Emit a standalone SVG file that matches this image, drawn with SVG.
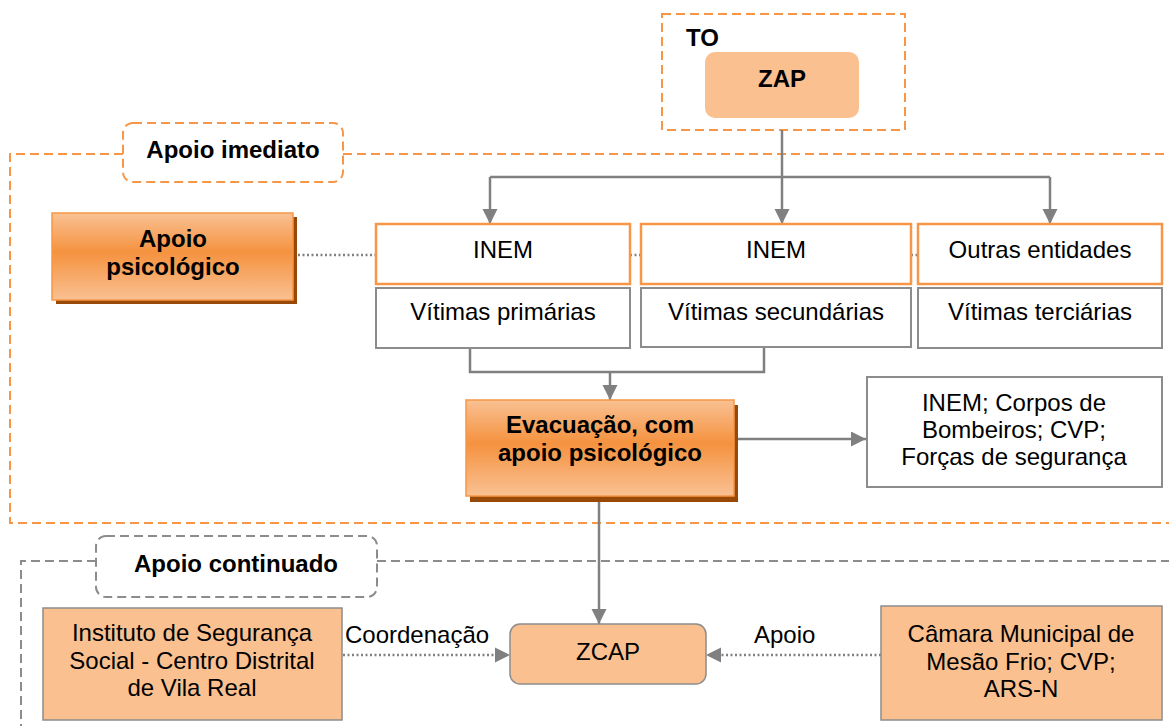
<svg xmlns="http://www.w3.org/2000/svg" width="1169" height="726" viewBox="0 0 1169 726">
<defs>
<linearGradient id="og" x1="0" y1="0" x2="0" y2="1">
<stop offset="0" stop-color="#F9C193"/>
<stop offset="0.45" stop-color="#F5923F"/>
<stop offset="1" stop-color="#F9C193"/>
</linearGradient>
<marker id="ar" markerUnits="userSpaceOnUse" markerWidth="16" markerHeight="16" refX="15" refY="7.5" orient="auto">
<path d="M0,0 L15,7.5 L0,15 z" fill="#808080"/>
</marker>
<style>
text{font-family:"Liberation Sans",Arial,sans-serif;font-size:24px;fill:#000;}
.b{font-weight:bold;}
.m{text-anchor:middle;}
.od{fill:none;stroke:#F79646;stroke-width:2;stroke-dasharray:9 5;}
.gd{fill:none;stroke:#8C8C8C;stroke-width:2;stroke-dasharray:9 5;}
.ob{fill:#fff;stroke:#F79646;stroke-width:2.5;}
.gb{fill:#fff;stroke:#8C8C8C;stroke-width:2;}
.lf{fill:#FAC090;stroke:#8C8C8C;stroke-width:1.5;}
.gr{fill:url(#og);stroke:#F79646;stroke-width:1.5;}
.sh{fill:#984807;}
.c{fill:none;stroke:#808080;stroke-width:2.5;}
.dt{fill:none;stroke:#808080;stroke-width:2.5;stroke-dasharray:2 2.5;}
</style>
</defs>

<g id="region-apoio-imediato">
<path class="od" d="M123,154 L10,154 L10,523 L1169,523"/>
<path class="od" d="M343,154 L1169,154"/>
<rect class="od" x="123" y="123" width="220" height="59" rx="10"/>
<text class="b m" x="233" y="158">Apoio imediato</text>
</g>

<g id="region-apoio-continuado">
<path class="gd" d="M96,561 L21,561 L21,726"/>
<path class="gd" d="M377,561 L1169,561"/>
<rect class="gd" x="96" y="536" width="281" height="61" rx="10"/>
<text class="b m" x="236" y="572">Apoio continuado</text>
</g>

<g id="to">
<rect class="od" x="662" y="14" width="243" height="116"/>
<text class="b" x="686" y="46">TO</text>
</g>

<g id="zap">
<rect x="705" y="52" width="154" height="66" rx="10" fill="#FAC090"/>
<text class="b m" x="782" y="87">ZAP</text>
</g>

<g id="connectors">
<path class="c" d="M782,130 L782,177"/>
<path class="c" d="M490,177 L1050,177"/>
<path class="c" d="M490,177 L490,224" marker-end="url(#ar)"/>
<path class="c" d="M782,177 L782,224" marker-end="url(#ar)"/>
<path class="c" d="M1050,177 L1050,224" marker-end="url(#ar)"/>
<path class="dt" d="M298,255 L376,255"/>
<path class="dt" d="M630,255 L641,255"/>
<path class="dt" d="M911,255 L918,255"/>
<path class="c" d="M470,348 L470,372 L764,372 L764,348"/>
<path class="c" d="M610,372 L610,400" marker-end="url(#ar)"/>
<path class="c" d="M734,439 L866,439" marker-end="url(#ar)"/>
<path class="c" d="M599,502 L599,624" marker-end="url(#ar)"/>
<path class="dt" d="M343,655 L497,655"/>
<path d="M495,647.5 L510,655 L495,662.5 z" fill="#808080"/>
<path class="dt" d="M881,655 L720,655"/>
<path d="M721,647.5 L706,655 L721,662.5 z" fill="#808080"/>
<text x="345" y="643">Coordenação</text>
<text x="754" y="643">Apoio</text>
</g>

<g id="apoio-psicologico">
<rect class="sh" x="56" y="217" width="241" height="87"/>
<rect class="gr" x="52" y="213" width="241" height="87"/>
<text class="b m" x="173" y="247">Apoio</text>
<text class="b m" x="173" y="275">psicológico</text>
</g>

<g id="inem-1">
<rect class="ob" x="376" y="224" width="254" height="60"/>
<text class="m" x="503" y="258">INEM</text>
</g>
<g id="vitimas-primarias">
<rect class="gb" x="376" y="288" width="254" height="60"/>
<text class="m" x="503" y="320">Vítimas primárias</text>
</g>

<g id="inem-2">
<rect class="ob" x="641" y="224" width="270" height="60"/>
<text class="m" x="776" y="258">INEM</text>
</g>
<g id="vitimas-secundarias">
<rect class="gb" x="641" y="288" width="270" height="59"/>
<text class="m" x="776" y="320">Vítimas secundárias</text>
</g>

<g id="outras-entidades">
<rect class="ob" x="918" y="224" width="244" height="60"/>
<text class="m" x="1040" y="258">Outras entidades</text>
</g>
<g id="vitimas-terciarias">
<rect class="gb" x="918" y="288" width="244" height="60"/>
<text class="m" x="1040" y="320">Vítimas terciárias</text>
</g>

<g id="evacuacao">
<rect class="sh" x="470" y="405" width="268" height="97"/>
<rect class="gr" x="466" y="400" width="268" height="96"/>
<text class="b m" x="600" y="433">Evacuação, com</text>
<text class="b m" x="600" y="461">apoio psicológico</text>
</g>

<g id="entidades-evacuacao">
<rect class="gb" x="867" y="377" width="295" height="110" stroke-width="1.5"/>
<text class="m" x="1014" y="411">INEM; Corpos de</text>
<text class="m" x="1014" y="438">Bombeiros; CVP;</text>
<text class="m" x="1014" y="465">Forças de segurança</text>
</g>

<g id="instituto">
<rect class="lf" x="43" y="608" width="299" height="112"/>
<text class="m" x="192" y="641">Instituto de Segurança</text>
<text class="m" x="192" y="669">Social - Centro Distrital</text>
<text class="m" x="192" y="696">de Vila Real</text>
</g>

<g id="zcap">
<rect class="lf" x="510" y="624" width="196" height="60" rx="10"/>
<text class="m" x="608" y="660">ZCAP</text>
</g>

<g id="camara">
<rect class="lf" x="881" y="606" width="281" height="114"/>
<text class="m" x="1021" y="642">Câmara Municipal de</text>
<text class="m" x="1021" y="670">Mesão Frio; CVP;</text>
<text class="m" x="1021" y="697">ARS-N</text>
</g>
</svg>
